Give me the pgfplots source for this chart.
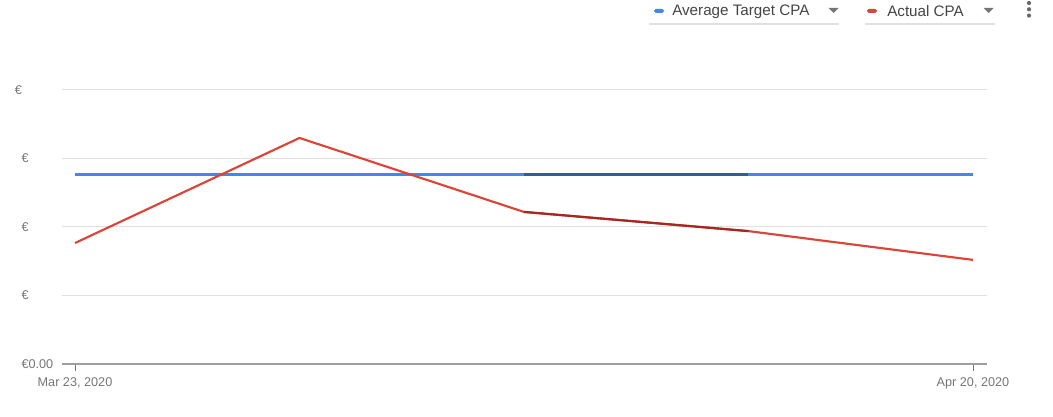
\documentclass[border=0pt]{standalone}
\usepackage{pgfplots}
\pgfplotsset{compat=1.18}
\usepackage{fontspec}
\setmainfont{Liberation Sans}
\definecolor{gblue}{HTML}{4285F4}
\definecolor{gbluedark}{HTML}{35599A}
\definecolor{gred}{HTML}{DB4437}
\definecolor{greddark}{HTML}{A3281F}
\definecolor{ggrid}{HTML}{E0E0E0}
\definecolor{gaxis}{HTML}{9E9E9E}
\definecolor{glabel}{HTML}{757575}
\definecolor{gtext}{HTML}{444444}
\newlength{\eurw}
\begin{document}%
\settowidth{\eurw}{\fontsize{9.5}{11}\selectfont €0.00}%
\begin{tikzpicture}
\begin{axis}[
  scale only axis,
  width=693.75pt, height=205.5pt,
  xmin=-0.0579, xmax=4.0624,
  ymin=0, ymax=4,
  axis line style={draw=none},
  ymajorgrids, grid style={ggrid, line width=0.75pt},
  xtick={0,4},
  xticklabels={{Mar 23, 2020},{Apr 20, 2020}},
  ytick={0,1,2,3,4},
  yticklabels={{€0.00},{\makebox[\eurw][l]{€}},{\makebox[\eurw][l]{€}},{\makebox[\eurw][l]{€}},{\makebox[\dimexpr\eurw+5pt\relax][l]{€}}},
  xtick pos=lower, tick align=outside,
  major tick length=5pt,
  xtick style={glabel, line width=0.6pt},
  ytick style={draw=none},
  ticklabel style={font=\fontsize{9.5}{11}\selectfont, text=glabel},
  xticklabel style={yshift=-2pt},
  yticklabel style={xshift=2pt},
  /pgf/number format/assume math mode=true,
  clip=false,
]
\coordinate (O) at (rel axis cs:0,0);
\draw[gaxis, line width=1.5pt] (rel axis cs:0,0) -- (rel axis cs:1,0);
\addplot[gblue, line width=1.6pt] coordinates {(0,2.766) (1,2.766) (2,2.766) (3,2.766) (4,2.766)};
\addplot[gbluedark, line width=1.6pt] coordinates {(2,2.766) (3,2.766)};
\addplot[gred, line width=1.6pt] coordinates {(0,1.766) (1,3.30) (2,2.22) (3,1.94) (4,1.52)};
\addplot[greddark, line width=1.6pt] coordinates {(2,2.22) (3,1.94)};
\end{axis}
\begin{scope}[shift={(O)}, x=0.75pt, y=-0.75pt, shift={(-62,-364)}]
\pgfresetboundingbox
\useasboundingbox (0,0) rectangle (1053,417);
% legend
\fill[gblue, rounded corners=1.2pt] (654,9) rectangle (664,12.8);
\node[anchor=west, inner sep=0pt, text=gtext, font=\fontsize{11.4}{13}\selectfont] at (672,11.5) {Average Target CPA};
\fill[glabel] (828.5,8) -- (838.5,8) -- (833.5,13) -- cycle;
\draw[ggrid, line width=1.2pt] (649,24) -- (839,24);
\fill[gred, rounded corners=1.2pt] (867,9) rectangle (877,12.8);
\node[anchor=west, inner sep=0pt, text=gtext, font=\fontsize{11.4}{13}\selectfont] at (887,11.5) {Actual CPA};
\fill[glabel] (983.5,8) -- (993.5,8) -- (988.5,13) -- cycle;
\draw[ggrid, line width=1.2pt] (865,24) -- (995,24);
\fill[gtext!80] (1029,3) circle (2.1);
\fill[gtext!80] (1029,9.3) circle (2.1);
\fill[gtext!80] (1029,15.6) circle (2.1);
\end{scope}
\end{tikzpicture}%
\end{document}
